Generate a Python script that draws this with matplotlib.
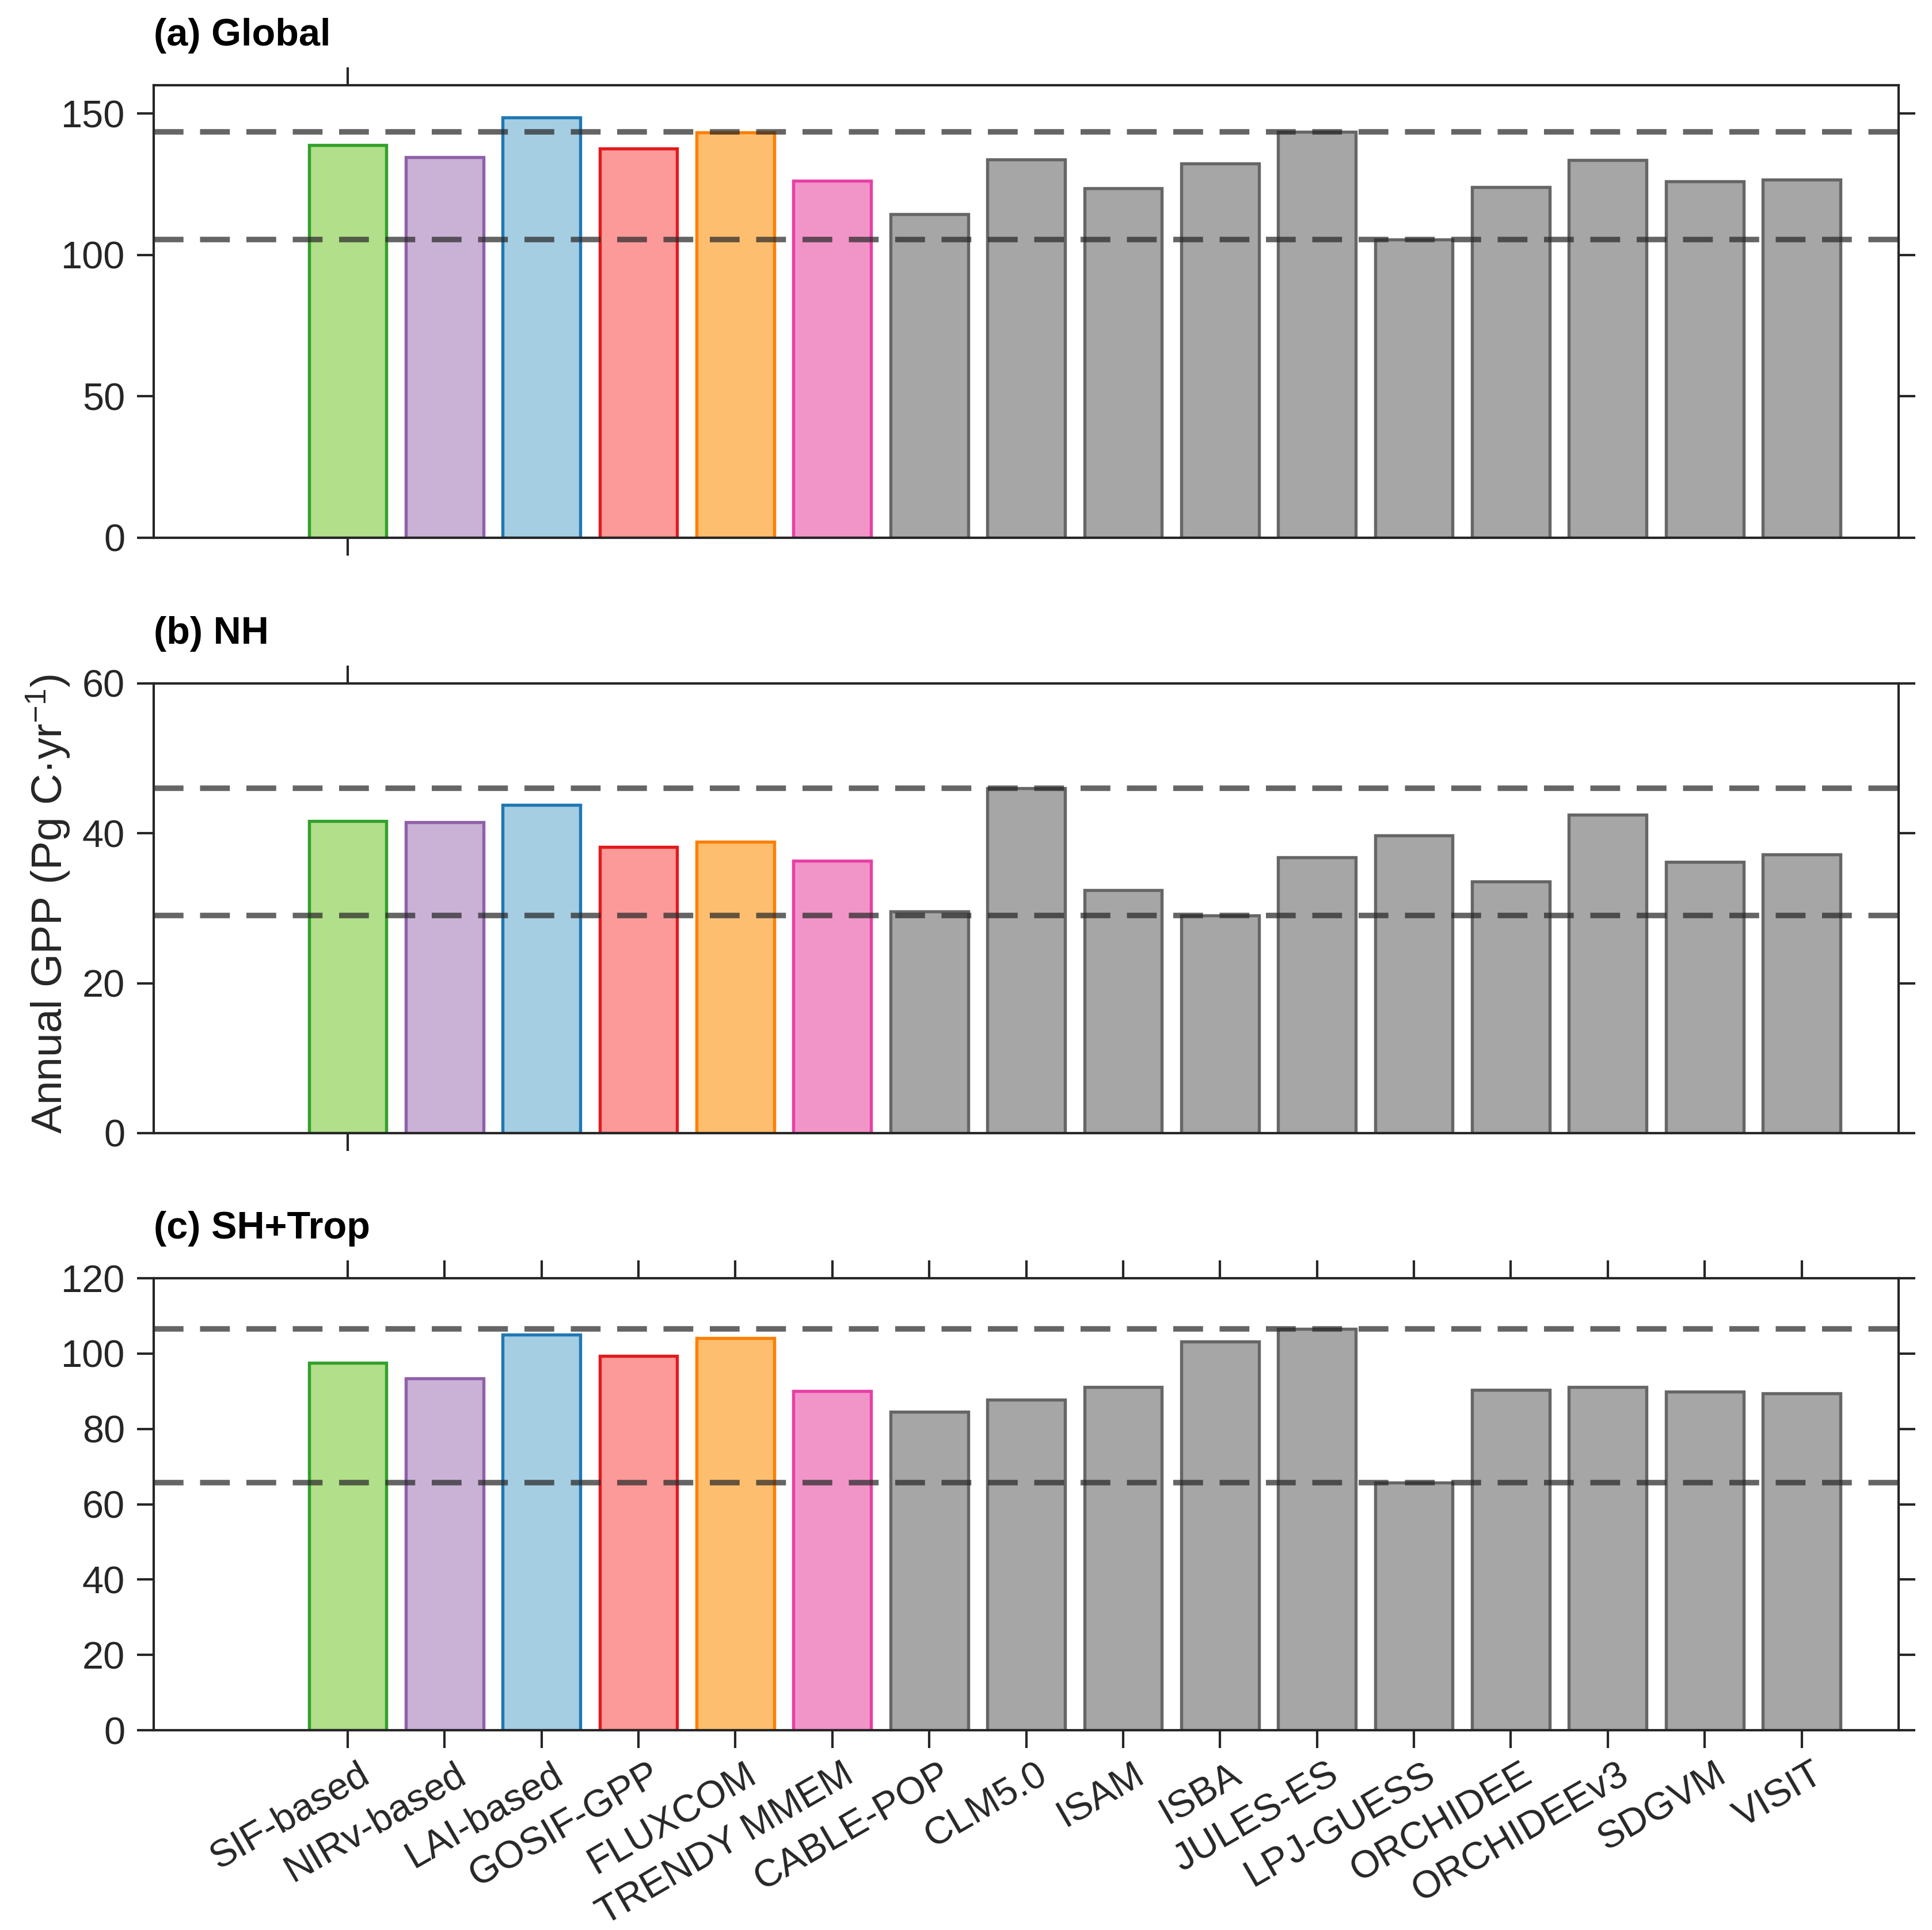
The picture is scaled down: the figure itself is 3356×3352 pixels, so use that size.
import matplotlib
matplotlib.use("Agg")
import matplotlib.pyplot as plt
import matplotlib.transforms as mtransforms
import numpy as np

plt.rcParams['font.family'] = ['Liberation Sans', 'DejaVu Sans']
plt.rcParams['mathtext.fontset'] = 'custom'
plt.rcParams['mathtext.rm'] = 'Liberation Sans'
plt.rcParams['mathtext.default'] = 'regular'

categories = ["SIF-based", "NIRv-based", "LAI-based", "GOSIF-GPP", "FLUXCOM",
              "TRENDY MMEM", "CABLE-POP", "CLM5.0", "ISAM", "ISBA", "JULES-ES",
              "LPJ-GUESS", "ORCHIDEE", "ORCHIDEEv3", "SDGVM", "VISIT"]

global_gpp = [138.8, 134.6, 148.7, 137.6, 143.4, 126.2, 114.4, 133.7, 123.6,
              132.4, 143.5, 105.4, 123.9, 133.5, 126.1, 126.7]
nh_gpp = [41.6, 41.5, 43.8, 38.2, 38.9, 36.3, 29.6, 46.0, 32.4, 29.0, 36.8,
          39.7, 33.6, 42.5, 36.2, 37.2]
sh_gpp = [97.5, 93.4, 105.0, 99.4, 104.1, 90.0, 84.5, 87.8, 91.1, 103.2, 106.6,
          65.8, 90.3, 91.1, 89.9, 89.5]

panel_titles = ["(a) Global", "(b) NH", "(c) SH+Trop"]
panel_yticks = [[0, 50, 100, 150], [0, 20, 40, 60], [0, 20, 40, 60, 80, 100, 120]]
panel_ylims = [(0, 160), (0, 60), (0, 120)]

face_colors = ["#b2df8a", "#cab2d6", "#a6cee3", "#fb9a99", "#fdbf6f", "#f195c9"] + ["#a6a6a6"] * 10
edge_colors = ["#33a02c", "#8f60a8", "#1f78b4", "#e31a1c", "#ff7f00", "#e83fa6"] + ["#666666"] * 10

n_obs = 6  # first six are observation-based / ensemble mean; rest are TRENDY models

fig = plt.figure(figsize=(3356 / 300, 3352 / 300), dpi=300)
left, right = 0.0796, 0.9827
boxes = [(0.7214, 0.9558), (0.4129, 0.6459), (0.1035, 0.3377)]
dark = "#262626"

x = np.arange(len(categories))
for i, (data, title, yt, yl, (b, t)) in enumerate(zip(
        [global_gpp, nh_gpp, sh_gpp], panel_titles, panel_yticks, panel_ylims, boxes)):
    ax = fig.add_axes([left, b, right - left, t - b])
    ax.bar(x, data, width=0.8, color=face_colors, edgecolor=edge_colors,
           linewidth=1.3, zorder=2)
    models = data[n_obs:]
    for v in (max(models), min(models)):
        ax.axhline(v, color="#2a2a2a", alpha=0.72, lw=2.3, dashes=(5.4, 3.0), zorder=3)
    ax.set_xlim(-2, 16)
    ax.set_ylim(*yl)
    ax.set_yticks(yt)
    for sp in ax.spines.values():
        sp.set_linewidth(1.0)
        sp.set_color(dark)
    ax.tick_params(axis='y', which='both', direction='out', length=7, width=1.0,
                   color=dark, labelcolor=dark, labelsize=16, pad=5,
                   left=True, right=True)
    ax.tick_params(axis='x', which='both', direction='out', length=7.5, width=1.0,
                   color=dark, labelcolor=dark, labelsize=16, top=True, bottom=True)
    if i < 2:
        ax.set_xticks([0])
        ax.set_xticklabels([])
    else:
        ax.set_xticks(x)
        ax.set_xticklabels(categories, rotation=30, ha='right', va='top',
                           rotation_mode='anchor')
        offset = mtransforms.ScaledTranslation(4 / 72, 0, fig.dpi_scale_trans)
        for lab in ax.get_xticklabels():
            lab.set_transform(lab.get_transform() + offset)
    ax.annotate(title, xy=(0, 1), xycoords='axes fraction', xytext=(0, 16.5),
                textcoords='offset points', ha='left', va='baseline',
                fontsize=16, fontweight='bold', color='black')

fig.text(0.025, 0.5316, "Annual GPP (Pg C\u00b7yr$^{-1}$)", rotation=90,
         ha='center', va='center', fontsize=18, color=dark)

fig.savefig("out.png", dpi=300)
